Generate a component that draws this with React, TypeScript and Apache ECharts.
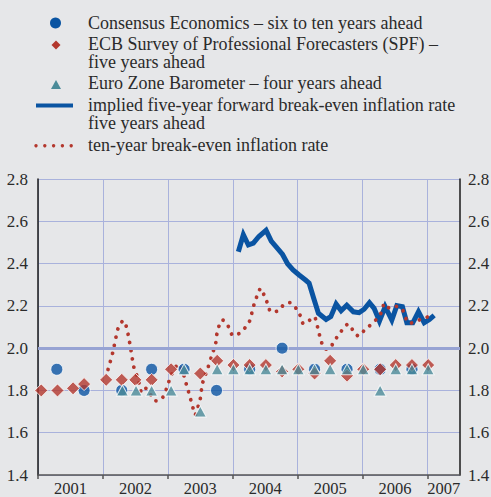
import React, { useEffect, useRef } from "react";
import * as echarts from "echarts";

// implied five-year forward break-even inflation rate five years ahead
const forwardYears = [2004.086, 2004.163, 2004.24, 2004.317, 2004.402, 2004.513, 2004.593, 2004.672, 2004.767, 2004.844, 2004.929, 2005.022, 2005.125, 2005.176, 2005.25, 2005.319, 2005.438, 2005.51, 2005.592, 2005.669, 2005.756, 2005.858, 2005.946, 2006.023, 2006.105, 2006.177, 2006.259, 2006.347, 2006.45, 2006.527, 2006.613, 2006.681, 2006.773, 2006.86, 2006.948, 2007.029, 2007.102];
const forwardValues = [2.456, 2.537, 2.488, 2.497, 2.528, 2.557, 2.506, 2.478, 2.443, 2.399, 2.37, 2.346, 2.321, 2.307, 2.232, 2.165, 2.136, 2.149, 2.209, 2.177, 2.203, 2.172, 2.168, 2.184, 2.215, 2.188, 2.128, 2.196, 2.133, 2.201, 2.196, 2.12, 2.12, 2.172, 2.12, 2.136, 2.155];

// ten-year break-even inflation rate
const tenYearYears = [2002.079, 2002.151, 2002.206, 2002.24, 2002.317, 2002.356, 2002.387, 2002.433, 2002.479, 2002.525, 2002.564, 2002.598, 2002.659, 2002.811, 2002.903, 2002.965, 2003.008, 2003.049, 2003.165, 2003.23, 2003.265, 2003.307, 2003.342, 2003.378, 2003.419, 2003.458, 2003.496, 2003.535, 2003.615, 2003.689, 2003.735, 2003.75, 2003.781, 2003.83, 2003.881, 2003.946, 2004.005, 2004.102, 2004.2, 2004.267, 2004.297, 2004.333, 2004.379, 2004.431, 2004.487, 2004.539, 2004.59, 2004.703, 2004.79, 2004.883, 2004.98, 2005.042, 2005.088, 2005.156, 2005.253, 2005.294, 2005.325, 2005.361, 2005.407, 2005.481, 2005.553, 2005.627, 2005.707, 2005.78, 2005.851, 2005.941, 2006.031, 2006.131, 2006.223, 2006.296, 2006.336, 2006.411, 2006.508, 2006.609, 2006.658, 2006.721, 2006.837, 2006.952, 2007.086];
const tenYearValues = [1.899, 1.979, 2.059, 2.098, 2.13, 2.106, 2.067, 1.988, 1.907, 1.868, 1.826, 1.789, 1.81, 1.751, 1.759, 1.797, 1.834, 1.871, 1.924, 1.888, 1.849, 1.807, 1.767, 1.729, 1.684, 1.717, 1.755, 1.834, 1.905, 1.977, 2.019, 2.059, 2.098, 2.133, 2.128, 2.094, 2.059, 2.07, 2.1, 2.133, 2.171, 2.212, 2.25, 2.283, 2.247, 2.209, 2.171, 2.177, 2.207, 2.215, 2.186, 2.152, 2.116, 2.125, 2.149, 2.114, 2.075, 2.035, 1.998, 1.995, 2.029, 2.061, 2.094, 2.115, 2.085, 2.057, 2.086, 2.112, 2.14, 2.173, 2.211, 2.19, 2.198, 2.184, 2.146, 2.117, 2.128, 2.145, 2.149];

// Consensus Economics – six to ten years ahead
const consensusYears = [2001.29, 2001.71, 2002.29, 2002.75, 2003.25, 2003.75, 2004.26, 2004.76, 2005.26, 2005.76, 2006.27, 2006.76];
const consensusValues = [1.9, 1.8, 1.8, 1.9, 1.9, 1.8, 1.9, 2.0, 1.9, 1.9, 1.9, 1.9];

// ECB Survey of Professional Forecasters (SPF) – five years ahead
const spfYears = [2001.05, 2001.3, 2001.54, 2001.71, 2002.05, 2002.29, 2002.5, 2002.75, 2003.05, 2003.5, 2003.76, 2004.01, 2004.26, 2004.51, 2004.76, 2005.01, 2005.26, 2005.5, 2005.76, 2006.01, 2006.27, 2006.51, 2006.76, 2007.01];
const spfValues = [1.8, 1.8, 1.81, 1.83, 1.85, 1.85, 1.85, 1.85, 1.9, 1.88, 1.94, 1.92, 1.92, 1.92, 1.89, 1.9, 1.88, 1.94, 1.87, 1.9, 1.9, 1.92, 1.92, 1.92];

// Euro Zone Barometer – four years ahead
const ezbYears = [2002.3, 2002.51, 2002.75, 2003.05, 2003.25, 2003.5, 2003.76, 2004.01, 2004.26, 2004.51, 2004.76, 2005.01, 2005.26, 2005.5, 2005.76, 2006.01, 2006.27, 2006.51, 2006.76, 2007.01];
const ezbValues = [1.8, 1.8, 1.8, 1.8, 1.9, 1.7, 1.9, 1.9, 1.9, 1.9, 1.9, 1.9, 1.9, 1.9, 1.9, 1.9, 1.8, 1.9, 1.9, 1.9];

// axes
const yearTickValues = [2001, 2002, 2003, 2004, 2005, 2006, 2007];
const yearLabelPositions = [2001.5, 2002.5, 2003.5, 2004.5, 2005.5, 2006.5, 2007.25];
const yearLabels = ["2001", "2002", "2003", "2004", "2005", "2006", "2007"];
const referenceLevel = 2.0;

const legendLabels = {
  consensus: "Consensus Economics – six to ten years ahead",
  spf: "ECB Survey of Professional Forecasters (SPF) –\nfive years ahead",
  ezb: "Euro Zone Barometer – four years ahead",
  forward: "implied five-year forward break-even inflation rate\nfive years ahead",
  tenYear: "ten-year break-even inflation rate",
};

const BG = "#e6e7e9";
const GRID = "#a9b2dc";
const BLUE = "#0a54a2";
const RED = "#b3372d";
const TEAL = "#4b8b99";
const TXT = "#2b2b2b";
const FONT = "'Liberation Serif', 'Times New Roman', serif";

const pairs = (xs: number[], ys: number[]) => xs.map((x, i) => [x, ys[i]]);

export default function App() {
  const ref = useRef<HTMLDivElement>(null);
  useEffect(() => {
    document.body.style.margin = "0";
    if (!ref.current) return;
    const chart = echarts.init(ref.current, undefined, { renderer: "svg" });

    // y0 = vertical centre of the first line
    const legendText = (text: string, y0: number) => ({
      type: "text",
      x: 88,
      y: y0 - 9,
      style: {
        text,
        fill: TXT,
        fontSize: 18,
        lineHeight: 18,
        fontFamily: FONT,
        textVerticalAlign: "top",
      },
    });

    const option: any = {
      animation: false,
      backgroundColor: BG,
      textStyle: { fontFamily: FONT },
      grid: { left: 38, right: 31, top: 179, bottom: 22, outerBoundsMode: "none" },
      xAxis: {
        type: "value",
        min: 2001,
        max: 2007.5,
        interval: 1,
        axisLine: { show: true, onZero: false, lineStyle: { color: "#555", width: 1.5 } },
        axisTick: { show: true, length: 4, customValues: yearTickValues, lineStyle: { color: "#555", width: 1.5 } },
        axisLabel: {
          customValues: yearLabelPositions,
          formatter: (v: number) => {
            const i = yearLabelPositions.findIndex((p) => Math.abs(p - v) < 1e-6);
            return i >= 0 ? yearLabels[i] : "";
          },
          fontSize: 16.5,
          color: TXT,
          fontFamily: FONT,
          margin: 5,
        },
        splitLine: { show: true, lineStyle: { color: GRID, width: 1 } },
      },
      yAxis: [
        {
          type: "value",
          min: 1.4,
          max: 2.8,
          interval: 0.2,
          position: "left",
          axisLine: { show: true, lineStyle: { color: "#1a1a1a", width: 1.5 } },
          axisTick: { show: false },
          axisLabel: { formatter: (v: number) => v.toFixed(1), margin: 10, fontSize: 17, color: TXT, fontFamily: FONT },
          splitLine: { show: true, lineStyle: { color: GRID, width: 1 } },
        },
        {
          type: "value",
          min: 1.4,
          max: 2.8,
          interval: 0.2,
          position: "right",
          axisLine: { show: true, lineStyle: { color: "#1a1a1a", width: 1.5 } },
          axisTick: { show: false },
          axisLabel: { formatter: (v: number) => v.toFixed(1), margin: 8, fontSize: 17, color: TXT, fontFamily: FONT },
          splitLine: { show: false },
        },
      ],
      series: [
        {
          name: "reference",
          type: "line",
          data: [],
          silent: true,
          markLine: {
            silent: true,
            symbol: "none",
            label: { show: false },
            lineStyle: { color: "#97a3d3", width: 3, type: "solid" },
            data: [{ yAxis: referenceLevel }],
          },
        },
        {
          name: "implied five-year forward break-even inflation rate five years ahead",
          type: "line",
          data: pairs(forwardYears, forwardValues),
          showSymbol: false,
          symbol: "none",
          lineStyle: { color: BLUE, width: 5, join: "miter" },
          z: 3,
        },
        {
          name: "ten-year break-even inflation rate",
          type: "line",
          data: pairs(tenYearYears, tenYearValues),
          showSymbol: false,
          symbol: "none",
          smooth: 0.3,
          lineStyle: { color: RED, width: 3.8, type: [0.01, 8.3], cap: "round" },
          z: 4,
        },
        {
          name: "Consensus Economics – six to ten years ahead",
          type: "scatter",
          data: pairs(consensusYears, consensusValues),
          symbol: "circle",
          symbolSize: 12,
          itemStyle: { color: BLUE, borderColor: "#fff", borderWidth: 1 },
          z: 5,
        },
        {
          name: "ECB Survey of Professional Forecasters (SPF) – five years ahead",
          type: "scatter",
          data: pairs(spfYears, spfValues),
          symbol: "diamond",
          symbolSize: 13,
          itemStyle: { color: RED, borderColor: "#fff", borderWidth: 1 },
          z: 6,
        },
        {
          name: "Euro Zone Barometer – four years ahead",
          type: "scatter",
          data: pairs(ezbYears, ezbValues),
          symbol: "triangle",
          symbolSize: [12, 11],
          itemStyle: { color: TEAL, borderColor: "#fff", borderWidth: 1 },
          z: 7,
        },
      ],
      graphic: [
        { type: "circle", shape: { cx: 55.5, cy: 23, r: 5.5 }, style: { fill: BLUE } },
        { type: "polygon", shape: { points: [[56, 40.5], [60.5, 45], [56, 49.5], [51.5, 45]] }, style: { fill: RED } },
        { type: "polygon", shape: { points: [[56, 80], [61, 89], [51, 89]] }, style: { fill: TEAL } },
        { type: "line", shape: { x1: 36, y1: 105.5, x2: 73, y2: 105.5 }, style: { stroke: BLUE, lineWidth: 4 } },
        ...[36, 44.8, 53.6, 62.4, 71.2].map((cx) => ({
          type: "circle",
          shape: { cx, cy: 145.7, r: 1.7 },
          style: { fill: RED },
        })),
        legendText(legendLabels.consensus, 22.5),
        legendText(legendLabels.spf, 44),
        legendText(legendLabels.ezb, 82.5),
        legendText(legendLabels.forward, 104.8),
        legendText(legendLabels.tenYear, 144.7),
      ],
    };
    chart.setOption(option);
    return () => chart.dispose();
  }, []);
  return <div ref={ref} style={{ width: 491, height: 497 }} />;
}
